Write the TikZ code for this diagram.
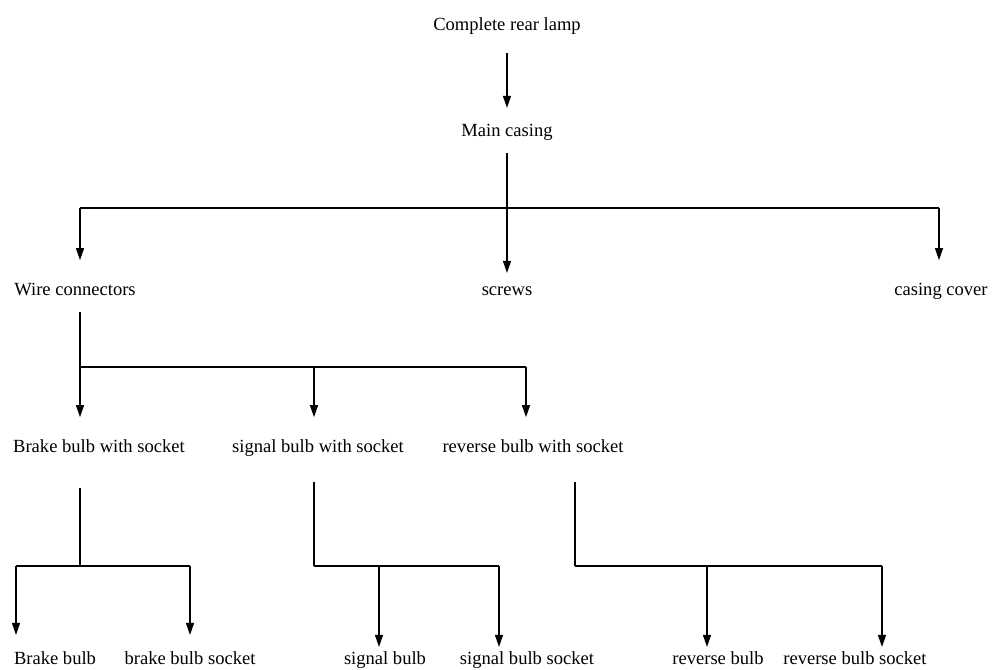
\documentclass[tikz,border=0pt]{standalone}
\usepackage{fontspec}
\setmainfont{Liberation Serif}
\usepackage{tikz}
\usetikzlibrary{arrows}
\usetikzlibrary{positioning, arrows.meta}

\begin{document}
\begin{tikzpicture}[x=0.25mm, y=-0.25mm,
		>={Triangle[length=3mm,width=2mm]},
		every path/.style={line width=0.8pt},
		part/.style={
			anchor=base,
			inner sep=0pt,
			outer sep=0pt,
			text height=9pt,
			text depth=3pt,
			font=\fontsize{13.2}{15}\selectfont}
		]
		\useasboundingbox (0,0) rectangle (1000,670);
		% levels
		\node[part] (lamp) at (507, 31) {Complete rear lamp};
		\node[part] (mc) at (507, 137) {Main casing};
		\node[part] (wc) at (75, 296) {Wire connectors};
		\node[part] (sc) at (507, 296) {screws};
		\node[part] (cc) at (941, 296) {casing cover};
		\node[part] (bws) at (99, 453) {Brake bulb with socket};
		\node[part] (sws) at (318, 453) {signal bulb with socket};
		\node[part] (rws) at (533, 453) {reverse bulb with socket};
		\node[part] (bb) at (55, 664) {Brake bulb};
		\node[part] (bbs) at (190, 664) {brake bulb socket};
		\node[part] (sb) at (385, 664) {signal bulb};
		\node[part] (sbs) at (527, 664) {signal bulb socket};
		\node[part] (rb) at (718, 664) {reverse bulb};
		\node[part] (rbs) at (855, 664) {reverse bulb socket};
		% branch points
		\coordinate (m1) at (80, 208);
		\coordinate (m2) at (939, 208);
		\coordinate (n1) at (80, 367);
		\coordinate (n2) at (314, 367);
		\coordinate (n3) at (526, 367);
		\coordinate (p0) at (80, 566);
		\coordinate (p1) at (16, 566);
		\coordinate (p2) at (190, 566);
		\coordinate (q0) at (314, 566);
		\coordinate (q1) at (379, 566);
		\coordinate (q2) at (499, 566);
		\coordinate (r0) at (575, 566);
		\coordinate (r1) at (707, 566);
		\coordinate (r2) at (882, 566);
		\draw[->, shorten <=4.45mm, shorten >=4.1mm] (lamp.south) to (mc.north);
		\draw[->, shorten <=2.95mm, shorten >=2.6mm] (mc.south) to (sc.north);
		\draw (m1) -- (m2);
		\draw[->, shorten >=5.8mm] (m1) to (m1 |- wc.north);
		\draw[->, shorten >=5.8mm] (m2) to (m2 |- cc.north);
		\draw[shorten <=2.95mm] (wc.south -| n1) to (n1);
		\draw (n1) -- (n3);
		\draw[->, shorten >=5.8mm] (n1) to (n1 |- bws.north);
		\draw[->, shorten >=5.8mm] (n2) to (n2 |- sws.north);
		\draw[->, shorten >=5.8mm] (n3) to (n3 |- rws.north);
		\draw[shorten <=7.7mm] (bws.south -| p0) to (p0);
		\draw (p1) -- (p2);
		\draw[->, shorten >=4.1mm] (p1) to (p1 |- bb.north);
		\draw[->, shorten >=4.1mm] (p2) to (p2 |- bbs.north);
		\draw[shorten <=6.2mm] (sws.south -| q0) to (q0);
		\draw (q0) -- (q2);
		\draw[->, shorten >=1.1mm] (q1) to (q1 |- sb.north);
		\draw[->, shorten >=1.1mm] (q2) to (q2 |- sbs.north);
		\draw[shorten <=6.2mm] (rws.south -| r0) to (r0);
		\draw (r0) -- (r2);
		\draw[->, shorten >=1.1mm] (r1) to (r1 |- rb.north);
		\draw[->, shorten >=1.1mm] (r2) to (r2 |- rbs.north);
\end{tikzpicture}
\end{document}
